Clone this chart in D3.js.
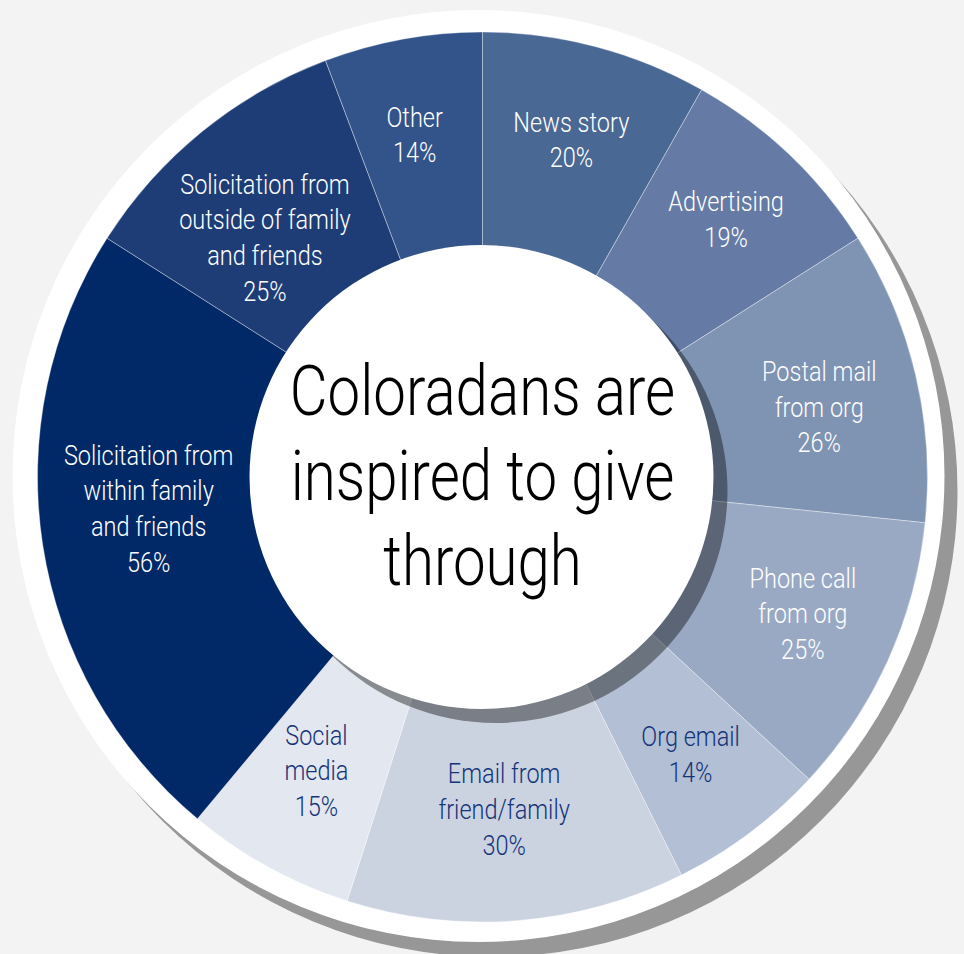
<!DOCTYPE html>
<html>
<head>
<meta charset="utf-8">
<script src="https://cdn.jsdelivr.net/npm/d3@7"></script>
<style>
  html, body { margin: 0; padding: 0; background: #f3f3f3; }
  svg { display: block; }
  text { font-family: Roboto, "Liberation Sans", sans-serif; font-weight: 300; }
</style>
</head>
<body>
<svg id="chart" width="964" height="954"></svg>
<script>
// Sources of giving inspiration, clockwise from 12 o'clock
const categories = [
  "News story",
  "Advertising",
  "Postal mail from org",
  "Phone call from org",
  "Org email",
  "Email from friend/family",
  "Social media",
  "Solicitation from within family and friends",
  "Solicitation from outside of family and friends",
  "Other"
];
const values = [20, 19, 26, 25, 14, 30, 15, 56, 25, 14];
const labelLines = [
  ["News story"],
  ["Advertising"],
  ["Postal mail", "from org"],
  ["Phone call", "from org"],
  ["Org email"],
  ["Email from", "friend/family"],
  ["Social", "media"],
  ["Solicitation from", "within family", "and friends"],
  ["Solicitation from", "outside of family", "and friends"],
  ["Other"]
];
const sliceColors = [
  "#4a6894", "#657ba5", "#7f93b3", "#99a9c4", "#b2bfd4",
  "#cbd3e1", "#e3e7f0", "#012967", "#1e3d77", "#33548a"
];
const labelColors = [
  "#ffffff", "#ffffff", "#ffffff", "#ffffff", "#14347a",
  "#14347a", "#14347a", "#ffffff", "#ffffff", "#ffffff"
];
const centerTitle = ["Coloradans are", "inspired to give", "through"];

// small hand-tuned offsets so multi-line labels sit nicely in their slices
const labelNudge = {
  "News story": [1, -4],
  "Advertising": [6, -8],
  "Postal mail from org": [1, 9],
  "Phone call from org": [6, -6],
  "Org email": [1, 1],
  "Email from friend/family": [-5, -12],
  "Social media": [0, -9],
  "Solicitation from within family and friends": [7, -22],
  "Solicitation from outside of family and friends": [0, 28],
  "Other": [-6, -3]
};

const data = categories.map((c, i) => ({
  category: c, value: values[i], lines: labelLines[i],
  color: sliceColors[i], textColor: labelColors[i]
}));

const svg = d3.select("#chart");
const W = 964, H = 954;
const cx = 482.5, cy = 477;
const rOuter = 445, rInner = 200, rLabel = 345;
// condensed look: horizontal squeeze applied to the type
const labelSqueeze = 0.84, titleSqueeze = 0.82;

const defs = svg.append("defs");
const soft = defs.append("filter").attr("id", "soft")
  .attr("x", "-10%").attr("y", "-10%").attr("width", "120%").attr("height", "120%");
soft.append("feGaussianBlur").attr("stdDeviation", 0.6);

// page background
svg.append("rect").attr("width", W).attr("height", H).attr("fill", "#f3f3f3");

// outer white disc with its drop shadow
const ring = { x: 478.5, y: 476, r: 466 };
svg.append("circle")
  .attr("cx", ring.x + 13).attr("cy", ring.y + 15).attr("r", ring.r)
  .attr("fill", "#000").attr("fill-opacity", 0.38).attr("filter", "url(#soft)");
svg.append("circle")
  .attr("cx", ring.x).attr("cy", ring.y).attr("r", ring.r)
  .attr("fill", "#ffffff");

// donut slices
const pie = d3.pie().sort(null).value(d => d.value)
  .startAngle(0).endAngle(2 * Math.PI);
const arcs = pie(data);
const arc = d3.arc().innerRadius(rInner).outerRadius(rOuter);
const labelArc = d3.arc().innerRadius(rLabel).outerRadius(rLabel);

const g = svg.append("g").attr("transform", `translate(${cx},${cy})`);
g.selectAll("path.slice")
  .data(arcs)
  .join("path")
  .attr("class", "slice")
  .attr("d", arc)
  .attr("fill", d => d.data.color)
  .attr("stroke", "rgba(255,255,255,0.45)")
  .attr("stroke-width", 0.8);

// slice labels
const lineH = 35.7, capHalf = 10;
const lbl = g.selectAll("g.label")
  .data(arcs)
  .join("g")
  .attr("class", "label")
  .attr("transform", d => {
    const [x, y] = labelArc.centroid(d);
    const [nx, ny] = labelNudge[d.data.category] || [0, 0];
    return `translate(${x + nx},${y + ny}) scale(${labelSqueeze},1)`;
  });
lbl.each(function (d) {
  const lines = d.data.lines.concat([d.data.value + "%"]);
  const n = lines.length;
  d3.select(this).selectAll("text")
    .data(lines)
    .join("text")
    .attr("text-anchor", "middle")
    .attr("x", 0)
    .attr("y", (t, i) => (i - (n - 1) / 2) * lineH + capHalf)
    .attr("font-size", 28)
    .attr("fill", d.data.textColor)
    .text(t => t);
});

// inner white disc with its drop shadow
const hub = { x: 481.5, y: 477, r: 232 };
svg.append("circle")
  .attr("cx", hub.x + 14).attr("cy", hub.y + 14).attr("r", hub.r)
  .attr("fill", "#000").attr("fill-opacity", 0.4).attr("filter", "url(#soft)");
svg.append("circle")
  .attr("cx", hub.x).attr("cy", hub.y).attr("r", hub.r)
  .attr("fill", "#ffffff");

// centre title
svg.append("g")
  .attr("transform", `translate(482.5,0) scale(${titleSqueeze},1)`)
  .selectAll("text")
  .data(centerTitle)
  .join("text")
  .attr("x", 0)
  .attr("y", (t, i) => 415 + i * 85)
  .attr("text-anchor", "middle")
  .attr("font-size", 71)
  .attr("fill", "#000")
  .text(t => t);
</script>
</body>
</html>
